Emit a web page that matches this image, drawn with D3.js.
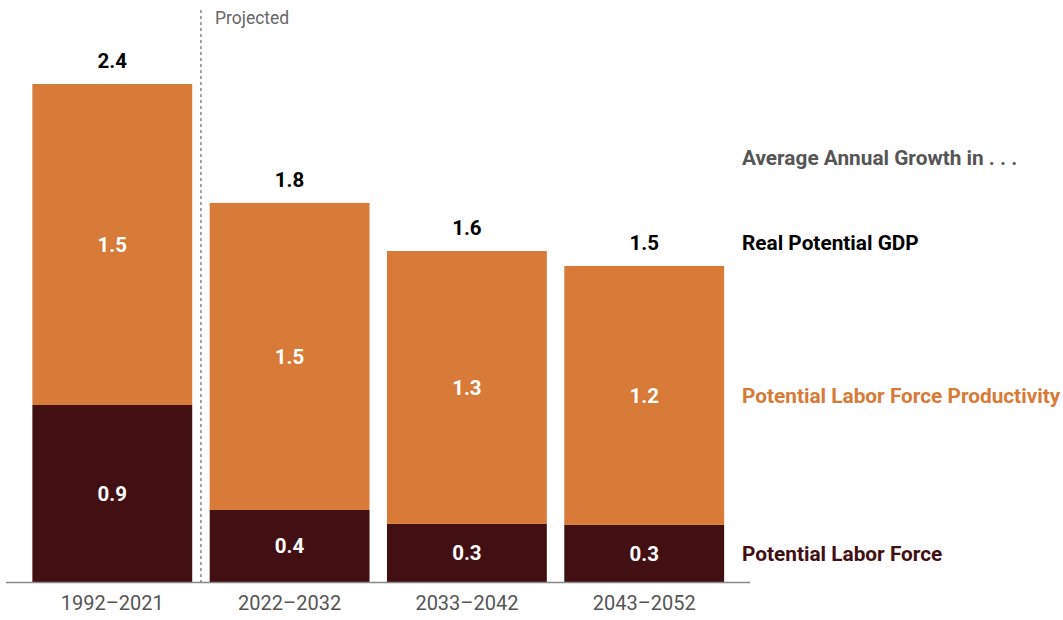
<!DOCTYPE html>
<html><head><meta charset="utf-8">
<script src="https://cdn.jsdelivr.net/npm/d3@7"></script>
<style>body{margin:0;background:#fff}svg{display:block}</style>
</head><body>
<svg id="c" width="1063" height="620"></svg>
<script>
const categories = ["1992\u20132021", "2022\u20132032", "2033\u20132042", "2043\u20132052"];
const laborForce = [0.853, 0.347, 0.28, 0.275];
const productivity = [1.547, 1.48, 1.315, 1.248];
const laborLabels = ["0.9", "0.4", "0.3", "0.3"];
const productivityLabels = ["1.5", "1.5", "1.3", "1.2"];
const totalLabels = ["2.4", "1.8", "1.6", "1.5"];
const legendLabels = ["Average Annual Growth in . . .", "Real Potential GDP", "Potential Labor Force Productivity", "Potential Labor Force"];

const svg = d3.select("#c");
const font = "Roboto, 'Open Sans', sans-serif";
const cOrange = "#d87a38", cDark = "#421012";

const x = d3.scaleBand().domain(categories).range([23.5, 733]).paddingInner(0.0985).paddingOuter(0.05);
const y = d3.scaleLinear().domain([0, 2.4]).range([582, 84]);

const data = categories.map((c, i) => ({c, lf: laborForce[i], pr: productivity[i], i}));

// bars
const g = svg.append("g");
g.selectAll(".lf").data(data).join("rect")
  .attr("x", d => x(d.c)).attr("width", x.bandwidth())
  .attr("y", d => y(d.lf)).attr("height", d => y(0) - y(d.lf)).attr("fill", cDark);
g.selectAll(".pr").data(data).join("rect")
  .attr("x", d => x(d.c)).attr("width", x.bandwidth())
  .attr("y", d => y(d.lf + d.pr)).attr("height", d => y(d.lf) - y(d.lf + d.pr)).attr("fill", cOrange);

// labels inside
g.selectAll(".lfl").data(data).join("text")
  .attr("x", d => x(d.c) + x.bandwidth()/2).attr("y", d => (y(0) + y(d.lf))/2)
  .attr("dy", "0.36em").attr("text-anchor", "middle").attr("fill", "#fff")
  .style("font", `bold 20.5px ${font}`).text(d => laborLabels[d.i]);
g.selectAll(".prl").data(data).join("text")
  .attr("x", d => x(d.c) + x.bandwidth()/2).attr("y", d => (y(d.lf) + y(d.lf + d.pr))/2)
  .attr("dy", "0.36em").attr("text-anchor", "middle").attr("fill", "#fff")
  .style("font", `bold 20.5px ${font}`).text(d => productivityLabels[d.i]);
g.selectAll(".tl").data(data).join("text")
  .attr("x", d => x(d.c) + x.bandwidth()/2).attr("y", d => y(d.lf + d.pr) - 16)
  .attr("text-anchor", "middle").attr("fill", "#000")
  .style("font", `bold 20.5px ${font}`).text(d => totalLabels[d.i]);

// axis
const ax = svg.append("g").attr("transform", `translate(0,${y(0)})`)
  .call(d3.axisBottom(x).tickSize(0).tickPadding(14));
ax.select(".domain").remove();
ax.append("line").attr("x1", 6).attr("x2", 750).attr("y1", 0.5).attr("y2", 0.5).attr("stroke", "#888").attr("stroke-width", 1.5);
ax.selectAll(".tick text").attr("fill", "#555").style("font", `20px ${font}`);

// projected divider
const dx = (x(categories[0]) + x.bandwidth() + x(categories[1]))/2;
svg.append("line").attr("x1", dx).attr("x2", dx).attr("y1", 10).attr("y2", y(0))
  .attr("stroke", "#666").attr("stroke-width", 1.2).attr("stroke-dasharray", "3,3");
svg.append("text").attr("x", dx + 14).attr("y", 24).attr("fill", "#666")
  .style("font", `17.5px ${font}`).text("Projected");

// legend
const legY = [158, 243, 396, 554];
const legC = ["#555", "#000", cOrange, cDark];
svg.selectAll(".leg").data(legendLabels).join("text")
  .attr("x", 742).attr("y", (d, i) => legY[i]).attr("dy", "0.36em")
  .attr("fill", (d, i) => legC[i]).style("font", `bold 20.8px ${font}`).text(d => d);
</script>
</body></html>
